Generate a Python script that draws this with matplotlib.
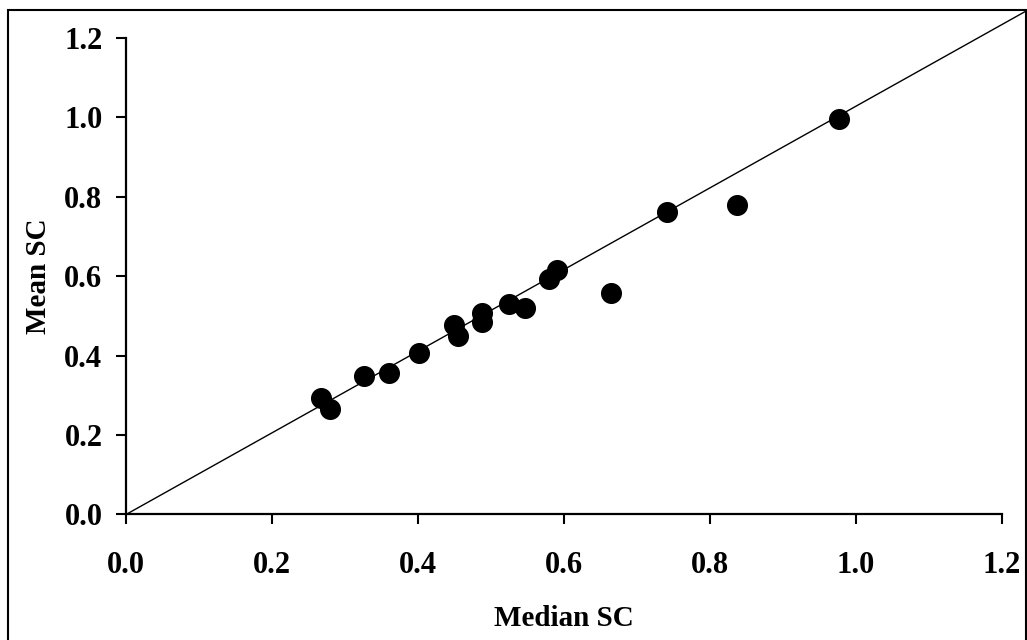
import matplotlib

matplotlib.use("Agg")
import matplotlib.pyplot as plt
from matplotlib.patches import Rectangle

# Median SC (x) vs Mean SC (y)
median_sc = [0.267, 0.280, 0.326, 0.360, 0.402, 0.449, 0.455, 0.487, 0.487,
             0.524, 0.547, 0.579, 0.590, 0.665, 0.741, 0.837, 0.977]
mean_sc = [0.293, 0.265, 0.350, 0.357, 0.406, 0.478, 0.450, 0.507, 0.485,
           0.530, 0.520, 0.592, 0.617, 0.557, 0.762, 0.779, 0.996]
# reference line runs from the origin out to the frame corner
line_x = [0.0, 1.233]
line_y = [0.0, 1.268]
ticks = [0.0, 0.2, 0.4, 0.6, 0.8, 1.0, 1.2]

FONT = "Liberation Serif"

fig = plt.figure(figsize=(10.27, 6.4), dpi=100)
ax = fig.add_axes([0.1227, 0.1961, 0.853, 0.7445])

ax.scatter(median_sc, mean_sc, s=200, color="black", zorder=3)
ax.plot(line_x, line_y, color="black", lw=1.0, clip_on=False, zorder=2)

ax.set_xlim(0, 1.2)
ax.set_ylim(0, 1.2)
ax.set_xticks(ticks)
ax.set_yticks(ticks)
ax.set_xticklabels([f"{t:.1f}" for t in ticks])
ax.set_yticklabels([f"{t:.1f}" for t in ticks])
for s in ("top", "right"):
    ax.spines[s].set_visible(False)
for s in ("left", "bottom"):
    ax.spines[s].set_linewidth(1.6)
ax.tick_params(direction="out", length=7, width=1.5, labelsize=22)
ax.tick_params(axis="x", pad=19)
ax.tick_params(axis="y", pad=10)
for lab in ax.get_xticklabels() + ax.get_yticklabels():
    lab.set_fontfamily(FONT)
    lab.set_fontweight("bold")

ax.set_xlabel("Median SC", fontsize=21, fontweight="bold", family=FONT, labelpad=18)
ax.set_ylabel("Mean SC", fontsize=21, fontweight="bold", family=FONT, labelpad=9)

fig.patches.append(Rectangle((0.0078, -0.01), 0.991, 0.9936, transform=fig.transFigure,
                             fill=False, edgecolor="black", lw=1.5))

fig.savefig("out.png", dpi=100, facecolor="white")
